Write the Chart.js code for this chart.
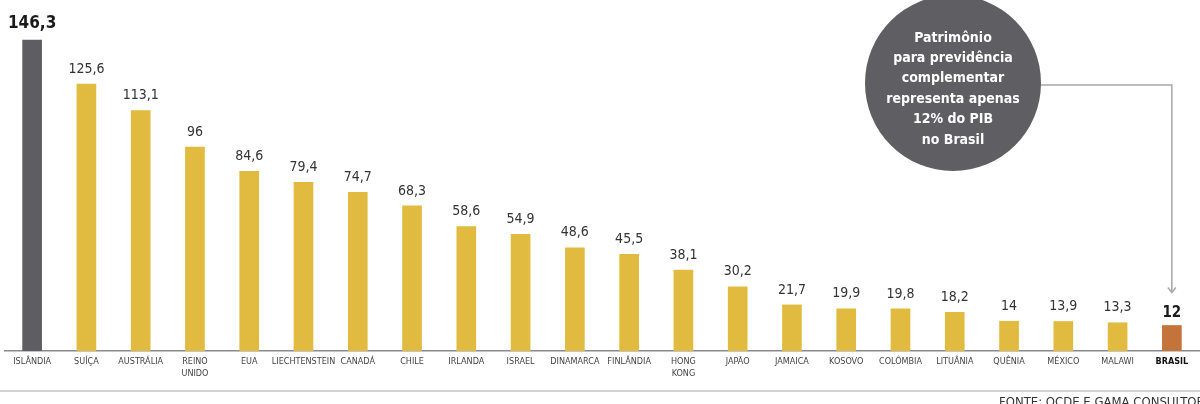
<!DOCTYPE html>
<html lang="pt-BR">
<head>
<meta charset="utf-8">
<title>Patrimônio para previdência complementar (% do PIB)</title>
<script src="https://cdn.jsdelivr.net/npm/chart.js@4.4.1/dist/chart.umd.min.js"></script>
<style>
  html, body { margin: 0; padding: 0; background: #fff; }
  #wrap { width: 1200px; height: 404px; position: relative; }
</style>
</head>
<body>
<div id="wrap"><canvas id="myChart" width="1200" height="404"></canvas></div>
<script>
const countries = [
  'ISLÂNDIA', 'SUÍÇA', 'AUSTRÁLIA', ['REINO', 'UNIDO'], 'EUA', 'LIECHTENSTEIN', 'CANADÁ',
  'CHILE', 'IRLANDA', 'ISRAEL', 'DINAMARCA', 'FINLÂNDIA', ['HONG', 'KONG'], 'JAPÃO',
  'JAMAICA', 'KOSOVO', 'COLÔMBIA', 'LITUÂNIA', 'QUÊNIA', 'MÉXICO', 'MALAWI', 'BRASIL'
];
const pctPib = [
  146.3, 125.6, 113.1, 96, 84.6, 79.4, 74.7, 68.3, 58.6, 54.9, 48.6,
  45.5, 38.1, 30.2, 21.7, 19.9, 19.8, 18.2, 14, 13.9, 13.3, 12
];
const bubbleLines = [
  'Patrimônio', 'para previdência', 'complementar',
  'representa apenas', '12% do PIB', 'no Brasil'
];
const sourceText = 'FONTE: OCDE E GAMA CONSULTORES';

const FONT = '"Liberation Sans Narrow", "DejaVu Sans Condensed", sans-serif';
const last = pctPib.length - 1;

const barColors = pctPib.map((v, i) => i === 0 ? '#5d5d62' : (i === last ? '#c4743a' : '#e1bb40'));

function fmt(v) {
  return String(v).replace('.', ',');
}

// value labels above each bar
const valueLabels = {
  id: 'valueLabels',
  afterDatasetsDraw(chart) {
    const ctx = chart.ctx;
    const meta = chart.getDatasetMeta(0);
    ctx.save();
    ctx.textAlign = 'center';
    ctx.textBaseline = 'bottom';
    meta.data.forEach((bar, i) => {
      if (i === 0) {
        ctx.font = 'bold 17px ' + FONT;
        ctx.fillStyle = '#1a1a1a';
      } else if (i === last) {
        ctx.font = 'bold 15px ' + FONT;
        ctx.fillStyle = '#1a1a1a';
      } else {
        ctx.font = '14px ' + FONT;
        ctx.fillStyle = '#333';
      }
      ctx.fillText(fmt(pctPib[i]), bar.x, bar.y - (i === last ? 5 : 8));
    });
    ctx.restore();
  }
};

// grey bubble with the note, connector to the Brasil bar, footer rule and source
const decorations = {
  id: 'decorations',
  afterDraw(chart) {
    const ctx = chart.ctx;
    const bar = chart.getDatasetMeta(0).data[last];
    const cx = 953, cy = 83, r = 88;

    ctx.save();
    // connector line
    ctx.strokeStyle = '#a8a8a8';
    ctx.lineWidth = 1.5;
    ctx.beginPath();
    ctx.moveTo(cx + r - 2, 85);
    ctx.lineTo(bar.x, 85);
    ctx.lineTo(bar.x, bar.y - 33);
    ctx.stroke();
    ctx.beginPath();
    ctx.moveTo(bar.x - 4, bar.y - 38);
    ctx.lineTo(bar.x, bar.y - 33);
    ctx.lineTo(bar.x + 4, bar.y - 38);
    ctx.stroke();

    // bubble
    ctx.fillStyle = '#5f5f63';
    ctx.beginPath();
    ctx.arc(cx, cy, r, 0, Math.PI * 2);
    ctx.fill();
    ctx.fillStyle = '#fff';
    ctx.font = 'bold 14px ' + FONT;
    ctx.textAlign = 'center';
    ctx.textBaseline = 'middle';
    bubbleLines.forEach((t, i) => ctx.fillText(t, cx, 38 + i * 20.4));

    // footer rule + source (runs off the bottom/right edge)
    ctx.strokeStyle = '#d2d2d2';
    ctx.lineWidth = 2;
    ctx.beginPath();
    ctx.moveTo(0, 391);
    ctx.lineTo(1200, 391);
    ctx.stroke();
    ctx.fillStyle = '#333';
    ctx.font = '13px ' + FONT;
    ctx.textAlign = 'left';
    ctx.textBaseline = 'top';
    ctx.fillText(sourceText, 999, 396);
    ctx.restore();
  }
};

new Chart('myChart', {
  type: 'bar',
  data: {
    labels: countries,
    datasets: [{
      data: pctPib,
      backgroundColor: barColors,
      barThickness: 19,
      borderWidth: 0
    }]
  },
  options: {
    responsive: false,
    animation: false,
    layout: { padding: { left: 5, right: 1, top: 11, bottom: 0 } },
    plugins: {
      legend: { display: false },
      tooltip: { enabled: false }
    },
    scales: {
      x: {
        grid: { display: false, drawTicks: false },
        border: { display: true, color: '#8a8a8a', width: 1.5 },
        ticks: {
          autoSkip: false,
          maxRotation: 0,
          padding: 4,
          color: (c) => c.index === last ? '#111' : '#444',
          font: (c) => ({ family: FONT, size: 9, weight: c.index === last ? 'bold' : 'normal', lineHeight: 1.4 })
        },
        afterFit(scale) { scale.height = 53; }
      },
      y: {
        display: false,
        min: 0,
        max: 160
      }
    }
  },
  plugins: [valueLabels, decorations]
});
</script>
</body>
</html>
